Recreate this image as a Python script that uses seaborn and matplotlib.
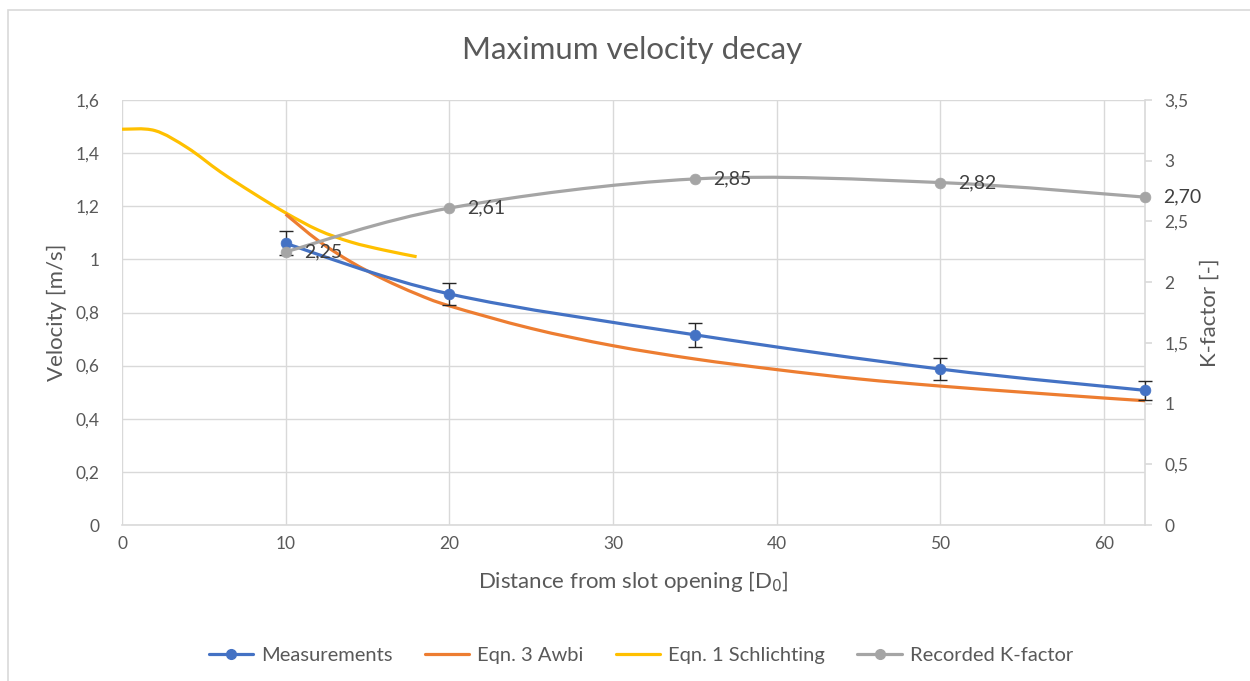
import matplotlib
matplotlib.use("Agg")
import matplotlib.pyplot as plt
import seaborn as sns
import pandas as pd
from matplotlib.path import Path
from matplotlib.patches import PathPatch, Rectangle
from matplotlib.lines import Line2D
from matplotlib.collections import PathCollection
from matplotlib.ticker import FuncFormatter, MultipleLocator

# ---------------- data ----------------
meas_x = [10, 20, 35, 50, 62.5]
meas_v = [1.06, 0.87, 0.716, 0.587, 0.507]
meas_err = [0.045, 0.04, 0.045, 0.04, 0.035]

awbi_x = [10, 12, 14, 16, 18, 20, 25, 30, 35, 40, 45, 50, 55, 60, 62.5]
awbi_v = [1.17, 1.07, 0.99, 0.925, 0.87, 0.825, 0.74, 0.675, 0.625, 0.585, 0.55,
          0.523, 0.50, 0.478, 0.468]

schl_x = [0, 2, 4, 6, 8, 10, 12, 14, 16, 18]
schl_v = [1.49, 1.485, 1.42, 1.33, 1.25, 1.175, 1.11, 1.065, 1.035, 1.01]

k_x = [10, 20, 35, 50, 62.5]
k_v = [2.25, 2.61, 2.85, 2.82, 2.70]
k_labels = ["2,25", "2,61", "2,85", "2,82", "2,70"]

x_ticks = [0, 10, 20, 30, 40, 50, 60]

BLUE = "#4472C4"
ORANGE = "#ED7D31"
YELLOW = "#FFC000"
GRAY = "#A5A5A5"
TXT = "#595959"
GRID = "#D9D9D9"
FONT = ["Lato", "DejaVu Sans"]

sns.set_theme(style="white")
plt.rcParams["font.family"] = FONT


def smooth_path(xs, ys):
    pts = list(zip(xs, ys))
    verts = [pts[0]]
    codes = [Path.MOVETO]
    n = len(pts)
    for i in range(n - 1):
        p0 = pts[i - 1] if i > 0 else pts[i]
        p1 = pts[i]
        p2 = pts[i + 1]
        p3 = pts[i + 2] if i + 2 < n else pts[i + 1]
        c1 = (p1[0] + (p2[0] - p0[0]) / 6, p1[1] + (p2[1] - p0[1]) / 6)
        c2 = (p2[0] - (p3[0] - p1[0]) / 6, p2[1] - (p3[1] - p1[1]) / 6)
        verts += [c1, c2, p2]
        codes += [Path.CURVE4] * 3
    return Path(verts, codes)


def add_line(axis, xs, ys, color, z):
    axis.add_patch(PathPatch(smooth_path(xs, ys), facecolor="none", edgecolor=color,
                             lw=2.3, zorder=z, capstyle="butt", joinstyle="round"))


fig = plt.figure(figsize=(12.5, 6.81), dpi=100)
ax = fig.add_axes([122 / 1250, 1 - 525 / 681, (1145 - 122) / 1250, (525 - 100) / 681])
ax2 = ax.twinx()

# Primary axis series
add_line(ax, schl_x, schl_v, YELLOW, 3)
add_line(ax, awbi_x, awbi_v, ORANGE, 3.1)
add_line(ax, meas_x, meas_v, BLUE, 4)
eb = ax.errorbar(meas_x, meas_v, yerr=meas_err, fmt="none", ecolor="#262626", elinewidth=1,
                 capsize=5, capthick=1, zorder=5)
for art in list(eb.lines[1]) + list(eb.lines[2]):
    art.set_clip_on(False)
df_meas = pd.DataFrame({"x": meas_x, "v": meas_v})
sns.scatterplot(data=df_meas, x="x", y="v", ax=ax, color=BLUE, s=60, edgecolor=BLUE,
                linewidth=0.5, zorder=6)

# K-factor on secondary axis
add_line(ax2, k_x, k_v, GRAY, 3)
df_k = pd.DataFrame({"x": k_x, "v": k_v})
sns.scatterplot(data=df_k, x="x", y="v", ax=ax2, color=GRAY, s=60, edgecolor=GRAY,
                linewidth=0.5, zorder=4)
for a_ in (ax, ax2):
    for c in a_.collections:
        if isinstance(c, PathCollection):
            c.set_clip_on(False)
for xx, vv, lab in zip(k_x, k_v, k_labels):
    ax2.annotate(lab, (xx, vv), xytext=(13, 0), textcoords="offset points",
                 va="center", ha="left", fontsize=14, color="#404040", zorder=6,
                 annotation_clip=False)

# Axes setup
ax.set_xlim(0, 62.5)
ax.set_ylim(0, 1.6)
ax2.set_ylim(0, 3.5)
ax.set_xticks(x_ticks)
ax.yaxis.set_major_locator(MultipleLocator(0.2))
ax2.yaxis.set_major_locator(MultipleLocator(0.5))
comma = FuncFormatter(lambda v, p: ("%g" % round(v, 2)).replace(".", ","))
ax.yaxis.set_major_formatter(comma)
ax2.yaxis.set_major_formatter(comma)

ax.grid(True, color=GRID, lw=1)
ax.set_axisbelow(True)
ax2.grid(False)
for s in ["top", "left"]:
    ax.spines[s].set_visible(False)
for s in ["bottom", "right"]:
    ax.spines[s].set_color(GRID)
    ax.spines[s].set_linewidth(1.2)
for s in ["top", "left", "bottom", "right"]:
    ax2.spines[s].set_visible(False)

ax.tick_params(axis="x", length=0, labelsize=12.5, labelcolor=TXT, pad=8)
ax.tick_params(axis="y", length=0, labelsize=12.5, labelcolor=TXT, pad=16)
ax2.tick_params(axis="y", length=5, width=1.2, color=GRID, labelsize=12.5, labelcolor=TXT,
                pad=9)

ax.set_xlabel("Distance from slot opening [D$_0$]", fontsize=16, color=TXT, labelpad=12)
ax.set_ylabel("Velocity [m/s]", fontsize=16, color=TXT, labelpad=6)
ax2.set_ylabel("K-factor [-]", fontsize=16, color=TXT, labelpad=8)

fig.text(632 / 1250, 1 - 50 / 681, "Maximum velocity decay", ha="center", va="center",
         fontsize=22.5, color=TXT)

handles = [
    Line2D([], [], color=BLUE, lw=2.3, marker="o", ms=7),
    Line2D([], [], color=ORANGE, lw=2.3),
    Line2D([], [], color=YELLOW, lw=2.3),
    Line2D([], [], color=GRAY, lw=2.3, marker="o", ms=7),
]
labels = ["Measurements", "Eqn. 3 Awbi", "Eqn. 1 Schlichting", "Recorded K-factor"]
leg = fig.legend(handles, labels, loc="center", bbox_to_anchor=(641 / 1250, 1 - 655 / 681),
                 ncol=4, frameon=False, fontsize=14.5, handlelength=2.2, columnspacing=1.6,
                 handletextpad=0.4)
for t in leg.get_texts():
    t.set_color(TXT)

fig.patches.append(Rectangle((8 / 1250, -0.1), 1.2, 1 - 10 / 681 + 0.1,
                             transform=fig.transFigure, fill=False, edgecolor=GRID, lw=1.2))

fig.savefig("out.png", dpi=100, facecolor="white")
